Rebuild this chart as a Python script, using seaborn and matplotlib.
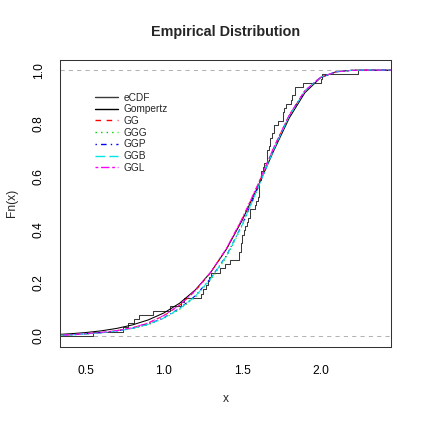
import numpy as np
import matplotlib
matplotlib.use("Agg")
import matplotlib.pyplot as plt
from matplotlib.lines import Line2D
import seaborn as sns

# ---- data -------------------------------------------------------------
strength = [0.55, 0.74, 0.77, 0.81, 0.84, 0.93, 1.04, 1.11, 1.13, 1.24,
            1.25, 1.27, 1.28, 1.29, 1.30, 1.36, 1.39, 1.42, 1.48, 1.48,
            1.49, 1.49, 1.50, 1.50, 1.51, 1.52, 1.53, 1.54, 1.55, 1.55,
            1.58, 1.59, 1.60, 1.61, 1.61, 1.61, 1.61, 1.62, 1.62, 1.63,
            1.64, 1.66, 1.66, 1.66, 1.67, 1.68, 1.68, 1.69, 1.70, 1.70,
            1.73, 1.76, 1.76, 1.77, 1.78, 1.81, 1.82, 1.84, 1.84, 1.89,
            2.00, 2.01, 2.24]

x_grid = [0.33, 0.40, 0.50, 0.60, 0.70, 0.80, 0.90, 1.00, 1.10, 1.20, 1.30,
          1.40, 1.50, 1.60, 1.70, 1.80, 1.90, 2.00, 2.10, 2.20, 2.30, 2.46]

gompertz = [0.0056, 0.0079, 0.0125, 0.0189, 0.0282, 0.0414, 0.0600, 0.0862,
            0.1227, 0.1727, 0.2398, 0.3269, 0.4352, 0.5612, 0.6950, 0.8194,
            0.9150, 0.9713, 0.9940, 0.9994, 1.0000, 1.0000]
gg = [0.0025, 0.0038, 0.0078, 0.0125, 0.0197, 0.0302, 0.0480, 0.0759,
      0.1147, 0.1684, 0.2395, 0.3280, 0.4400, 0.5680, 0.7060, 0.8300,
      0.9220, 0.9730, 0.9935, 0.9992, 1.0000, 1.0000]
ggg = [0.0020, 0.0030, 0.0070, 0.0110, 0.0175, 0.0272, 0.0418, 0.0652,
       0.0990, 0.1450, 0.2120, 0.2960, 0.4140, 0.5540, 0.7000, 0.8280,
       0.9220, 0.9730, 0.9937, 0.9993, 1.0000, 1.0000]
ggp = [0.0023, 0.0034, 0.0075, 0.0118, 0.0188, 0.0288, 0.0440, 0.0685,
       0.1035, 0.1505, 0.2175, 0.3025, 0.4190, 0.5570, 0.7010, 0.8285,
       0.9222, 0.9731, 0.9937, 0.9993, 1.0000, 1.0000]
ggb = [0.0022, 0.0032, 0.0073, 0.0115, 0.0183, 0.0282, 0.0432, 0.0672,
       0.1018, 0.1485, 0.2158, 0.3007, 0.4178, 0.5560, 0.7000, 0.8280,
       0.9220, 0.9730, 0.9937, 0.9993, 1.0000, 1.0000]
ggl = [0.0027, 0.0041, 0.0081, 0.0129, 0.0202, 0.0308, 0.0488, 0.0770,
       0.1160, 0.1700, 0.2410, 0.3300, 0.4420, 0.5700, 0.7080, 0.8310,
       0.9225, 0.9732, 0.9936, 0.9992, 1.0000, 1.0000]

series_names = ["Gompertz", "GG", "GGG", "GGP", "GGB", "GGL"]
x_ticks = [0.5, 1.0, 1.5, 2.0]
y_ticks = [0.0, 0.2, 0.4, 0.6, 0.8, 1.0]
ref_levels = [0.0, 1.0]
x_limits = (0.337, 2.453)
y_limits = (-0.04, 1.04)

# ---- styles -----------------------------------------------------------
ecdf_color = "#3A3A3A"
colors = {"Gompertz": "black", "GG": "#FF0000", "GGG": "#00CD00",
          "GGP": "#0000FF", "GGB": "#00E5E5", "GGL": "#FF00FF"}
dashes = {"Gompertz": None, "GG": (4, 4), "GGG": (1, 3), "GGP": (1, 3, 4, 3),
          "GGB": (7, 3), "GGL": (2, 2, 6, 2)}
values = {"Gompertz": gompertz, "GG": gg, "GGG": ggg, "GGP": ggp,
          "GGB": ggb, "GGL": ggl}

sns.set_style("white")
plt.rcParams["font.family"] = ["Liberation Sans", "DejaVu Sans"]

fig = plt.figure(figsize=(4.22, 4.22), dpi=100)
ax = fig.add_axes([0.1422, 0.1789, 0.7855, 0.6801])

lw = 0.75
for lv in ref_levels:
    ax.axhline(lv, color="#B3B3B3", lw=lw, dashes=(4, 4), zorder=1)

# empirical CDF as step function
xs = np.sort(np.asarray(strength))
n = len(xs)
ex = np.r_[x_limits[0] - 0.1, xs, x_limits[1] + 0.1]
ey = np.r_[0.0, np.arange(1, n + 1) / n, 1.0]
sns.lineplot(x=ex, y=ey, ax=ax, estimator=None, sort=False,
             drawstyle="steps-post", color=ecdf_color, linewidth=lw,
             legend=False)

handles = [Line2D([], [], color=ecdf_color, lw=1.0)]
labels = ["eCDF"]
for name in series_names:
    sns.lineplot(x=x_grid, y=values[name], ax=ax, estimator=None, sort=False,
                 color=colors[name], linewidth=lw, legend=False)
    line = ax.lines[-1]
    proxy = Line2D([], [], color=colors[name], lw=1.0)
    if dashes[name] is not None:
        line.set_dashes(dashes[name])
        proxy.set_dashes(dashes[name])
    handles.append(proxy)
    labels.append(name)

ax.set_xlim(*x_limits)
ax.set_ylim(*y_limits)
ax.set_xticks(x_ticks)
ax.set_yticks(y_ticks)
ax.set_xticklabels([f"{v:.1f}" for v in x_ticks])
ax.set_yticklabels([f"{v:.1f}" for v in y_ticks], rotation=90, va="center")
ax.tick_params(direction="out", length=5.5, width=lw, colors="#333333",
               labelsize=8.64, labelcolor="black")
ax.tick_params(axis="x", pad=7.5)
ax.tick_params(axis="y", pad=5.5)
for sp in ax.spines.values():
    sp.set_visible(True)
    sp.set_color("#333333")
    sp.set_linewidth(lw)

ax.set_xlabel("x", fontsize=8.64, labelpad=12)
ax.set_ylabel("Fn(x)", fontsize=8.64, labelpad=10.5)
ax.set_title("Empirical Distribution", fontsize=10.4, fontweight="bold", pad=17)

ax.legend(handles, labels, loc="upper left", bbox_to_anchor=(0.1056, 0.885),
          frameon=False, fontsize=7.3, handlelength=2.3, handletextpad=0.5,
          labelspacing=0.17, borderpad=0, borderaxespad=0)

fig.savefig("out.png", dpi=100)
